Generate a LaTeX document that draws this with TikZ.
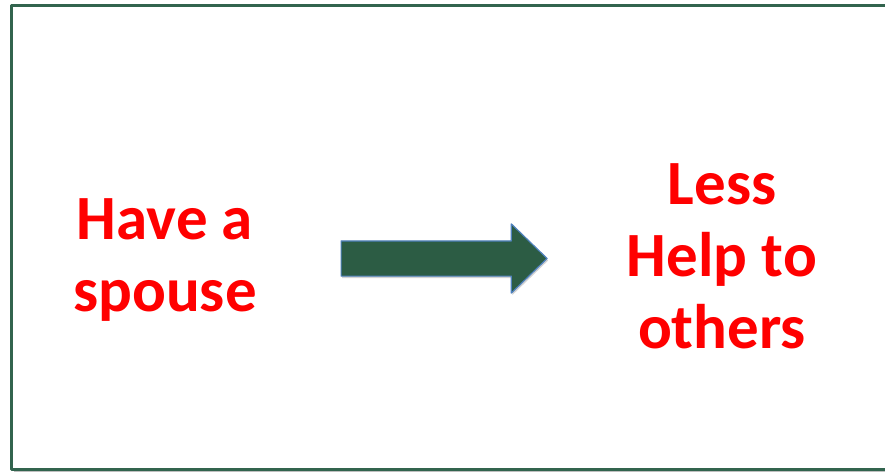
\documentclass[tikz,border=0pt]{standalone}
\usepackage{fontspec}
\setmainfont{Carlito}
\usetikzlibrary{shapes.arrows,shadows}
\definecolor{framegreen}{RGB}{50,100,78}
\definecolor{arrowgreen}{RGB}{44,92,68}
\definecolor{arrowblue}{RGB}{79,129,189}
\tikzset{
  lbl/.style={text=red, font=\bfseries\fontsize{63}{72}\selectfont, align=center},
}
\begin{document}
\begin{tikzpicture}[x=1pt,y=-1pt,line join=round]
			\def\W{885} \def\H{473}
			\useasboundingbox (0,0) rectangle (\W,\H);
			% khung
			\fill[black!25] (14,9) rectangle (892,472);
			\draw[framegreen,line width=3pt,fill=white] (11,6) rectangle (892,469);
			\node[lbl] (cause) at (165,260) {Have a\\spouse};
			\node[lbl] (effect) at (722,256) {Less\\Help to\\others};
			\node[single arrow, draw=arrowblue, fill=arrowgreen, line width=1.2pt,
				inner xsep=0pt, inner ysep=17pt, minimum height=206pt,
				single arrow head extend=17pt, single arrow tip angle=88,
				drop shadow={shadow xshift=1pt,shadow yshift=-2pt,opacity=0.35}]
				(arr) at (435,258.5) {};
	\end{tikzpicture}
\end{document}
